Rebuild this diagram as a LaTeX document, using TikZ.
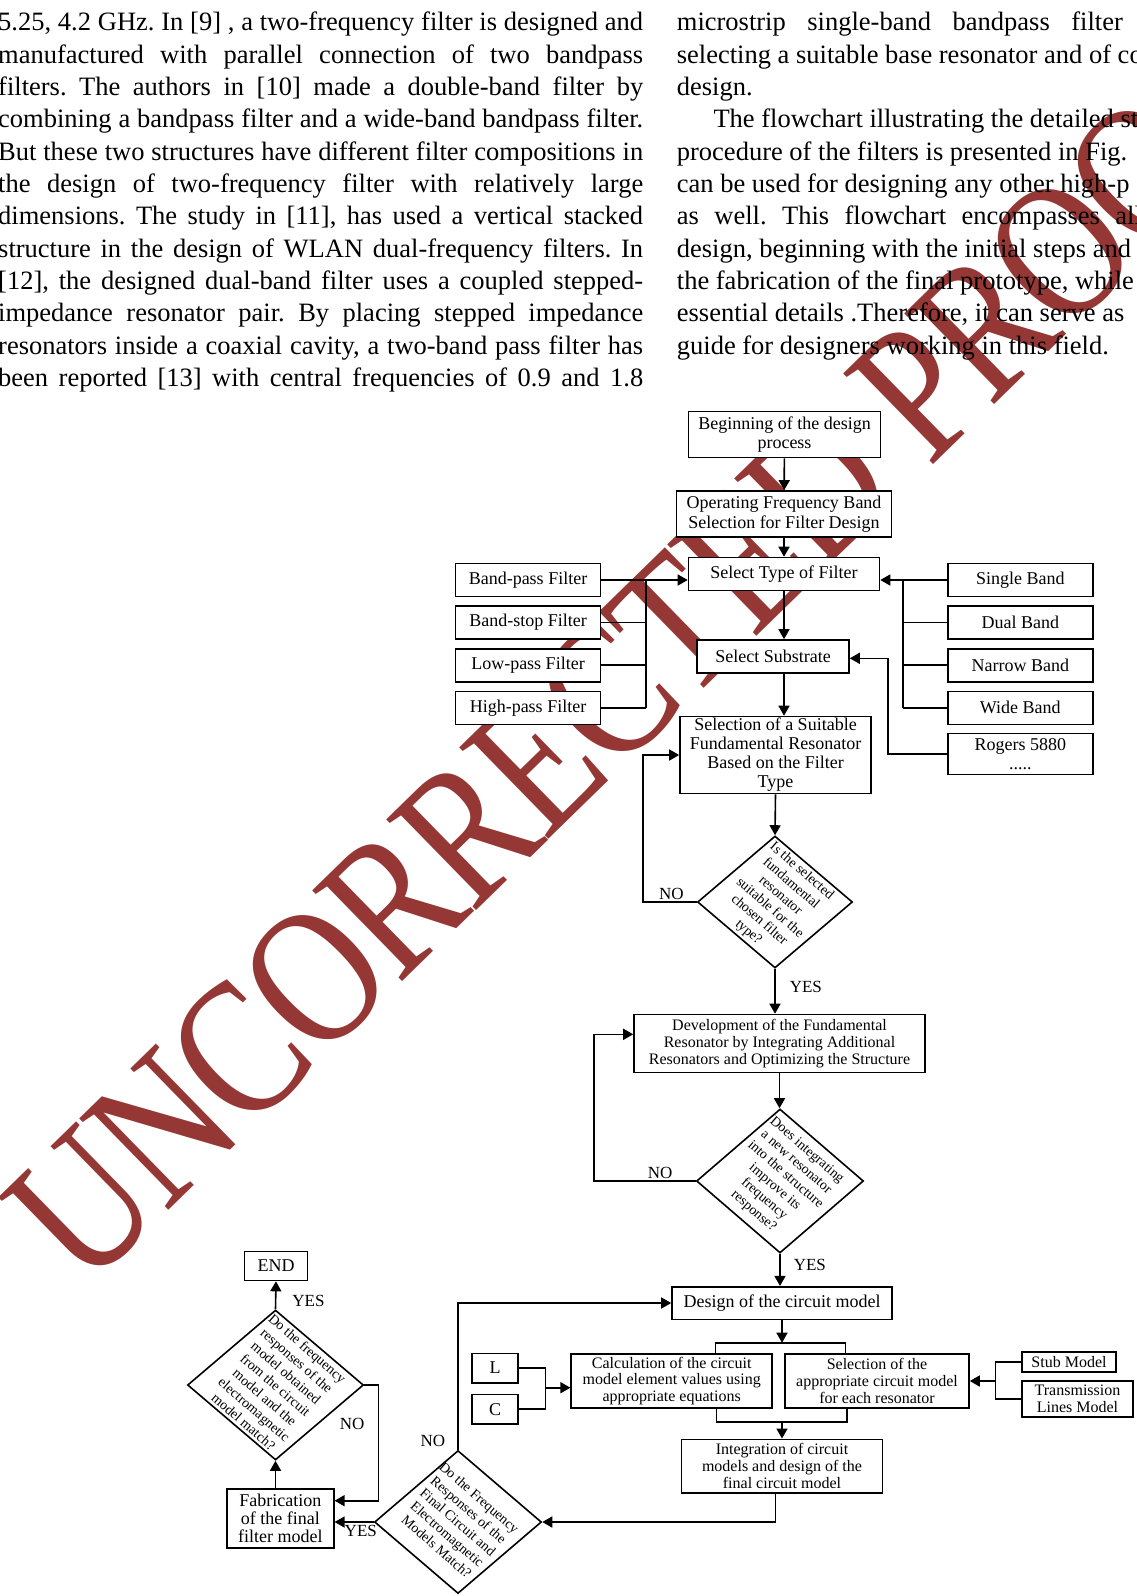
\documentclass[tikz,border=0pt]{standalone}
\usepackage{fontspec}
\setmainfont{Liberation Serif}
\usepackage{tikz}
\usetikzlibrary{positioning,arrows.meta,shapes.geometric,calc}
\definecolor{wmred}{RGB}{149,55,53}
\newcommand{\bodyfont}{\fontsize{26.5}{32.36}\selectfont\frenchspacing}
\newcommand{\flowfont}{\fontsize{18}{19.5}\selectfont}
\newcommand{\smallflowfont}{\fontsize{16}{16.8}\selectfont}
\newcommand{\qfont}{\fontsize{14}{16.2}\selectfont}
\newcommand{\ynfont}{\fontsize{17}{18}\selectfont}
\newcommand{\wmfont}{\fontsize{195}{200}\selectfont\addfontfeatures{FakeStretch=0.82,LetterSpace=-2}}
\newcommand{\jline}[1]{\makebox[645pt][s]{#1}}
\tikzset{
  box/.style   = {draw, fill=white, line width=1.6pt, align=center, inner sep=0pt, font=\flowfont},
  sbox/.style  = {box, font=\smallflowfont},
  fbox/.style  = {box, minimum width=145pt, minimum height=33pt},
  qbox/.style  = {draw, fill=white, diamond, line width=1.6pt, inner sep=0pt},
  qtext/.style = {rotate=-41, align=center, inner sep=0pt, font=\qfont},
  flow/.style  = {-{Triangle[length=10pt,width=11pt]}, line width=1.6pt},
  link/.style  = {line width=1.6pt},
  yn/.style    = {font=\ynfont, inner sep=2pt},
}

\begin{document}
\begin{tikzpicture}[x=1pt,y=-1pt]
  \useasboundingbox (0,0) rectangle (1136,1596);
  \clip (0,0) rectangle (1136,1596);

  % watermark goes first, the rest is printed over it
  \node[anchor=base west, rotate=44.3, inner sep=0pt, font=\wmfont, text=wmred] (wmark) at (85.6,1291.5) {UNCORRECTED PROOF};

  % the two columns of running text
  \node[anchor=base west, inner sep=0pt, font=\bodyfont] (lefttext) at (-2,30.7) {\parbox[t]{645pt}{%
    \jline{5.25, 4.2 GHz. In [9] , a two-frequency filter is designed and}\\
    \jline{manufactured with parallel connection of two bandpass}\\
    \jline{filters. The authors in [10] made a double-band filter by}\\
    \jline{combining a bandpass filter and a wide-band bandpass filter.}\\
    \jline{But these two structures have different filter compositions in}\\
    \jline{the design of two-frequency filter with relatively large}\\
    \jline{dimensions. The study in [11], has used a vertical stacked}\\
    \jline{structure in the design of WLAN dual-frequency filters. In}\\
    \jline{[12], the designed dual-band filter uses a coupled stepped-}\\
    \jline{impedance resonator pair. By placing stepped impedance}\\
    \jline{resonators inside a coaxial cavity, a two-band pass filter has}\\
    \jline{been reported [13] with central frequencies of 0.9 and 1.8}}};
  \node[anchor=base west, inner sep=0pt, font=\bodyfont] (righttext) at (676.7,30.7) {\parbox[t]{520pt}{%
    \makebox[446pt][s]{microstrip single-band bandpass filter}\\
    selecting a suitable base resonator and of co\\
    design.\\
    \hspace*{36.6pt}The flowchart illustrating the detailed st\\
    procedure of the filters is presented in Fig.\\
    can be used for designing any other high-p\\
    \makebox[465pt][s]{as well. This flowchart encompasses all}\\
    design, beginning with the initial steps and e\\
    the fabrication of the final prototype, while\\
    essential details .Therefore, it can serve as\\
    guide for designers working in this field.}};

  % main column
  \node[box, minimum width=192pt, minimum height=46pt] (begin) at (784.5,434.5) {Beginning of the design\\process};
  \node[box, minimum width=215pt, minimum height=46pt] (opband) at (784,514) {Operating Frequency Band\\Selection for Filter Design};
  \node[box, minimum width=191pt, minimum height=33pt] (ftype) at (784,574) {Select Type of Filter};
  \node[box, minimum width=152pt, minimum height=33pt] (subst) at (773,656.5) {Select Substrate};
  \node[box, minimum width=191pt, minimum height=77pt, font=\fontsize{18}{19}\selectfont] (reson) at (775.5,755) {Selection of a Suitable\\Fundamental Resonator\\Based on the Filter\\Type};
  \node[qbox, minimum width=155pt, minimum height=132pt,
        label={[qtext]center:{Is the selected\\fundamental\\resonator\\suitable for the\\chosen filter\\type?}}] (q1) at (775,902) {};
  \node[sbox, minimum width=291pt, minimum height=58pt] (devel) at (779.5,1043.5) {Development of the Fundamental\\Resonator by Integrating Additional\\Resonators and Optimizing the Structure};
  \node[qbox, minimum width=167pt, minimum height=144pt,
        label={[qtext]center:{Does integrating\\a new resonator\\into the structure\\improve its\\frequency\\response?}}] (q2) at (780,1181) {};
  \node[box, minimum width=220pt, minimum height=32.6pt] (design) at (782,1303) {Design of the circuit model};
  \node[sbox, minimum width=201pt, minimum height=54pt] (calc) at (671.7,1381) {Calculation of the circuit\\model element values using\\appropriate equations};
  \node[sbox, minimum width=184pt, minimum height=54pt] (sel) at (877,1381) {Selection of the\\appropriate circuit model\\for each resonator};
  \node[sbox, minimum width=201pt, minimum height=53.4pt] (integ) at (782,1466) {Integration of circuit\\models and design of the\\final circuit model};
  \node[qbox, minimum width=167pt, minimum height=143pt,
        label={[qtext]center:{Do the Frequency\\Responses of the\\Final Circuit and\\Electromagnetic\\Models Match?}}] (q3) at (458,1522) {};
  \node[box, minimum width=107pt, minimum height=59pt, font=\fontsize{18}{18}\selectfont] (fab) at (280.3,1518.7) {Fabrication\\of the final\\filter model};
  \node[qbox, minimum width=176pt, minimum height=150pt,
        label={[qtext]center:{Do the frequency\\responses of the\\model obtained\\from the circuit\\model and the\\electromagnetic\\model match?}}] (q4) at (275.5,1385) {};
  \node[box, minimum width=63pt, minimum height=29pt] (endn) at (276,1266) {END};

  % filter types and bands
  \node[fbox] (bpass) at (528,580) {Band-pass Filter};
  \node[fbox, below=8pt of bpass] (bstop) {Band-stop Filter};
  \node[fbox, below=8pt of bstop] (lpass) {Low-pass Filter};
  \node[fbox, below=8pt of lpass] (hpass) {High-pass Filter};
  \node[fbox] (sband) at (1020.3,580) {Single Band};
  \node[fbox, below=8pt of sband] (dband) {Dual Band};
  \node[fbox, below=8pt of dband] (nband) {Narrow Band};
  \node[fbox, below=8pt of nband] (wband) {Wide Band};
  \node[box, minimum width=145pt, minimum height=41pt, below=7.5pt of wband] (rogers) {Rogers 5880\\.....};

  % circuit model inputs
  \node[box, minimum width=46pt, minimum height=29.4pt] (lbox) at (495,1368) {L};
  \node[box, minimum width=46pt, minimum height=29.7pt, below=10.1pt of lbox] (cbox) {C};
  \node[sbox, minimum width=94pt, minimum height=20pt] (stub) at (1069,1362) {Stub Model};
  \node[sbox, minimum width=111pt, minimum height=36pt] (tline) at (1077.5,1399) {Transmission\\Lines Model};

  % corner points
  \coordinate (fbus) at (646,0);
  \coordinate (bbus) at (903,0);
  \coordinate (rbus) at (888,658.3);
  \coordinate (no1) at (643,902);
  \coordinate (no2) at (594,1181);
  \coordinate (no4a) at (378.3,1385);
  \coordinate (no4b) at (378.3,1500.7);
  \coordinate (toplft) at (715.6,1342.7);
  \coordinate (toprgt) at (845.3,1342.7);
  \coordinate (botlft) at (716.4,1421.7);
  \coordinate (botrgt) at (846.7,1421.7);
  \coordinate (lcbus) at (545.3,1387.7);
  \coordinate (stbus) at (995.6,1381);
  \coordinate (iq) at (775.6,1522);

  % main flow
  \draw[flow] (begin) -- (opband);
  \draw[flow] (opband) -- (ftype);
  \draw[flow] (ftype.south) -- (ftype.south |- subst.north);
  \draw[flow] (ftype.south |- subst.south) -- (ftype.south |- reson.north);
  \draw[flow] (reson.south) -- (q1.north);
  \draw[flow] (q1.south) -- node[yn, right=12pt, pos=0.4] {YES} (q1.south |- devel.north);
  \draw[flow] (q1.west) -- node[yn, above, pos=0.47] {NO} (no1) |- (reson.west);
  \draw[flow] (devel.south) -- (devel.south |- q2.north);
  \draw[flow] (q2.west) -- node[yn, above, pos=0.35] {NO} (no2) |- (devel.west |- 0,1034.3);
  \draw[flow] (q2.south) -- node[yn, right=11pt, pos=0.35] {YES} (q2.south |- design.north);
  \draw[flow] (design.south) -- (design.south |- toplft);
  \draw[link] (toplft |- calc.north) -- (toplft) -- (toprgt) -- (toprgt |- sel.north);
  \draw[link] (botlft |- calc.south) -- (botlft) -- (botrgt) -- (botrgt |- sel.south);
  \draw[flow] (integ.north |- botlft) -- (integ.north);
  \draw[flow] (integ.south -| iq) -- (iq) -- (q3.east);
  \draw[flow] (q3.north) |- node[yn, left=10pt, pos=0.03] {NO} (design.west);
  \draw[flow] (q3.west) -- node[yn, below, pos=0.33] {YES} (q3.west -| fab.east);
  \draw[flow] (fab.north -| q4.south) -- (q4.south);
  \draw[flow] (q4.north) -- node[yn, right=14pt, pos=0.3] {YES} (endn.south);
  \draw[flow] (q4.east) -- (no4a) -- node[yn, left=11pt, pos=0.34] {NO} (no4b) -- (no4b -| fab.east);

  % side inputs
  \draw[flow] (bpass.east) -- (bpass.east -| ftype.west);
  \draw[link] (bpass.east -| fbus) -- (hpass.east -| fbus);
  \draw[link] (bstop.east) -- (bstop.east -| fbus);
  \draw[link] (lpass.east) -- (lpass.east -| fbus);
  \draw[link] (hpass.east) -- (hpass.east -| fbus);
  \draw[flow] (sband.west) -- (sband.west -| ftype.east);
  \draw[link] (sband.west -| bbus) -- (wband.west -| bbus);
  \draw[link] (dband.west) -- (dband.west -| bbus);
  \draw[link] (nband.west) -- (nband.west -| bbus);
  \draw[link] (wband.west) -- (wband.west -| bbus);
  \draw[flow] (rogers.west) -| (rbus) -- (rbus -| subst.east);
  \draw[link] (lbox.east) -| (lcbus);
  \draw[link] (cbox.east) -| (lcbus);
  \draw[flow] (lcbus) -- (lcbus -| calc.west);
  \draw[link] (stub.west) -| (stbus);
  \draw[link] (tline.west) -| (stbus);
  \draw[flow] (stbus) -- (stbus -| sel.east);
\end{tikzpicture}
\end{document}
